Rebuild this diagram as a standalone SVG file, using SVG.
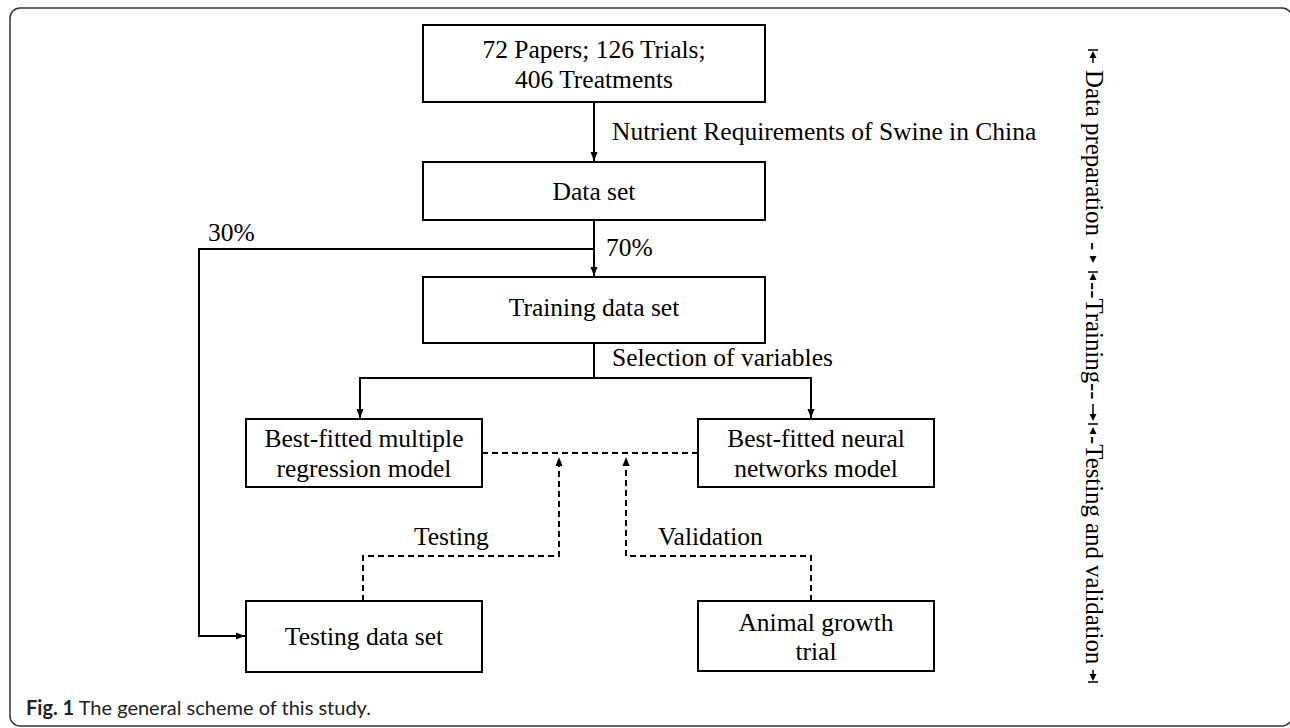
<svg xmlns="http://www.w3.org/2000/svg" width="1290" height="728" viewBox="0 0 1290 728">
<defs>
<style>
.box{fill:#fff;stroke:#000;stroke-width:2}
.t{font-family:"Liberation Serif","Times New Roman",serif;font-size:25.5px;fill:#000}
.v{font-size:24.8px}
.c{text-anchor:middle}
.ln{fill:none;stroke:#000;stroke-width:2}
.dl{fill:none;stroke:#000;stroke-width:2;stroke-dasharray:6,4}
.cap{font-family:Lato,"Liberation Sans",sans-serif;font-size:20px;fill:#222}
</style>
<marker id="ah" markerWidth="10" markerHeight="10" refX="9" refY="5" orient="auto" markerUnits="userSpaceOnUse">
<path d="M0,1.5 L9,5 L0,8.5 Z" fill="#000"/>
</marker>
</defs>
<rect x="10" y="8" width="1282" height="718" rx="10" ry="10" fill="none" stroke="#333" stroke-width="1.5"/>

<g id="connectors">
<line class="ln" x1="594" y1="102" x2="594" y2="161" marker-end="url(#ah)"/>
<line class="ln" x1="594" y1="220" x2="594" y2="276" marker-end="url(#ah)"/>
<polyline class="ln" points="594,249 199,249 199,636 245,636" marker-end="url(#ah)"/>
<line class="ln" x1="594" y1="343" x2="594" y2="378"/>
<polyline class="ln" points="360,418 360,378 811,378 811,418"/>
<line class="ln" x1="360" y1="378" x2="360" y2="418" marker-end="url(#ah)"/>
<line class="ln" x1="811" y1="378" x2="811" y2="418" marker-end="url(#ah)"/>
<line class="dl" x1="482" y1="453" x2="698" y2="453"/>
<polyline class="dl" points="363,601 363,556 559,556 559,457" marker-end="url(#ah)"/>
<polyline class="dl" points="811,601 811,556 626,556 626,457" marker-end="url(#ah)"/>
<text class="t" x="612" y="140">Nutrient Requirements of Swine in China</text>
<text class="t" x="606" y="256">70%</text>
<text class="t" x="208" y="241">30%</text>
<text class="t" x="612" y="366">Selection of variables</text>
<text class="t" x="414" y="545">Testing</text>
<text class="t" x="658" y="545">Validation</text>
</g>

<g id="n-papers">
<rect class="box" x="423" y="25" width="342" height="77"/>
<text class="t c" x="594" y="58">72 Papers; 126 Trials;</text>
<text class="t c" x="594" y="88">406 Treatments</text>
</g>
<g id="n-dataset">
<rect class="box" x="423" y="162" width="342" height="58"/>
<text class="t c" x="594" y="200">Data set</text>
</g>
<g id="n-training">
<rect class="box" x="423" y="277" width="342" height="66"/>
<text class="t c" x="594" y="316">Training data set</text>
</g>
<g id="n-mlr">
<rect class="box" x="246" y="419" width="236" height="68"/>
<text class="t c" x="364" y="447">Best-fitted multiple</text>
<text class="t c" x="364" y="477">regression model</text>
</g>
<g id="n-nn">
<rect class="box" x="698" y="419" width="236" height="68"/>
<text class="t c" x="816" y="447">Best-fitted neural</text>
<text class="t c" x="816" y="477">networks model</text>
</g>
<g id="n-testing">
<rect class="box" x="246" y="601" width="236" height="71"/>
<text class="t c" x="364" y="645">Testing data set</text>
</g>
<g id="n-animal">
<rect class="box" x="698" y="601" width="236" height="70"/>
<text class="t c" x="816" y="631">Animal growth</text>
<text class="t c" x="816" y="660">trial</text>
</g>

<g id="phases">
<g transform="translate(1086,0) rotate(90)">
<text class="t v" x="70" y="0">Data preparation -</text>
<text class="t v" x="282" y="0">--Training--</text>
<text class="t v" x="436" y="0">-Testing and validation</text>
</g>
<g stroke="#000" stroke-width="1.5" fill="#000">
<line x1="1088" y1="50" x2="1098" y2="50"/>
<line x1="1093" y1="55" x2="1093" y2="63"/>
<path d="M1093,51 L1089.5,58 L1096.5,58 Z" stroke="none"/>
<path d="M1093,263 L1089.5,256 L1096.5,256 Z" stroke="none"/>
<line x1="1088" y1="272" x2="1098" y2="272"/>
<path d="M1093,273 L1089.5,280 L1096.5,280 Z" stroke="none"/>
<line x1="1093" y1="404" x2="1093" y2="414"/>
<path d="M1093,421 L1089.5,414 L1096.5,414 Z" stroke="none"/>
<line x1="1088" y1="424" x2="1098" y2="424"/>
<path d="M1093,427 L1089.5,434 L1096.5,434 Z" stroke="none"/>
<line x1="1093" y1="670" x2="1093" y2="675"/>
<path d="M1093,681 L1089.5,674 L1096.5,674 Z" stroke="none"/>
<line x1="1088" y1="682" x2="1098" y2="682"/>
</g>
</g>

<g id="caption">
<text class="cap" x="26" y="715"><tspan font-weight="bold">Fig. 1</tspan> The general scheme of this study.</text>
</g>
</svg>
